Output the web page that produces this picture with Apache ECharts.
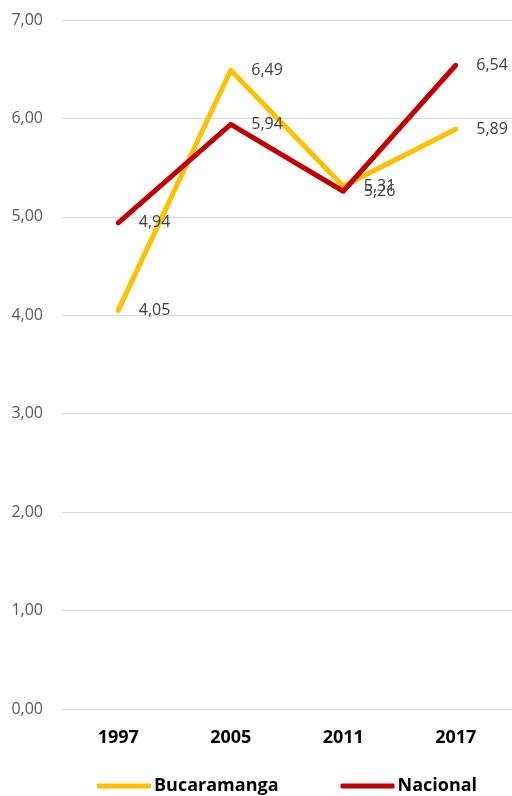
<!DOCTYPE html>
<html><head><meta charset="utf-8">
<script src="https://cdn.jsdelivr.net/npm/echarts@6/dist/echarts.min.js"></script>
<style>html,body{margin:0;padding:0;background:#fff}#c{width:512px;height:796px}</style>
</head><body><div id="c"></div>
<script>
var categories = ['1997','2005','2011','2017'];
var bucaramanga = [4.05, 6.49, 5.31, 5.89];
var nacional = [4.94, 5.94, 5.26, 6.54];
var fmt = function(v){ return v.toFixed(2).replace('.', ','); };
var font = '"Open Sans", "Noto Sans", sans-serif';
var chart = echarts.init(document.getElementById('c'), null, {renderer:'canvas'});
function lbl(){ return {show:true, position:'right', distance:20, fontFamily:font, fontSize:16, color:'#404040', formatter:function(p){return fmt(p.value);}}; }
chart.setOption({
  animation:false,
  grid:{left:62, right:0, top:20, bottom:87, containLabel:false},
  legend:{top:772, left:92, itemWidth:54, itemHeight:5, itemGap:62,
    icon:'roundRect',
    textStyle:{fontFamily:font, fontSize:18, fontWeight:'bold', color:'#000', padding:[0,0,0,-2]},
    data:['Bucaramanga','Nacional']},
  xAxis:{type:'category', data:categories, boundaryGap:true,
    axisLine:{show:true, lineStyle:{color:'#d9d9d9'}}, axisTick:{show:false},
    axisLabel:{fontFamily:font, fontSize:18, fontWeight:'bold', color:'#000', margin:20}},
  yAxis:{type:'value', min:0, max:7, interval:1,
    axisLine:{show:false}, axisTick:{show:false},
    splitLine:{lineStyle:{color:'#d9d9d9', width:1}},
    axisLabel:{fontFamily:font, fontSize:16, color:'#595959', margin:19, formatter:function(v){return fmt(v);}}},
  series:[
    {name:'Bucaramanga', type:'line', data:bucaramanga, symbol:'circle', symbolSize:1, showSymbol:true, color:'#FFC000',
      itemStyle:{color:'#FFC000'},
      lineStyle:{width:5, color:'#FFC000', cap:'round', join:'round'}, label:lbl()},
    {name:'Nacional', type:'line', data:nacional, symbol:'circle', symbolSize:1, showSymbol:true, color:'#C00000',
      itemStyle:{color:'#C00000'},
      lineStyle:{width:5, color:'#C00000', cap:'round', join:'round'}, label:lbl()}
  ]
});
</script></body></html>
